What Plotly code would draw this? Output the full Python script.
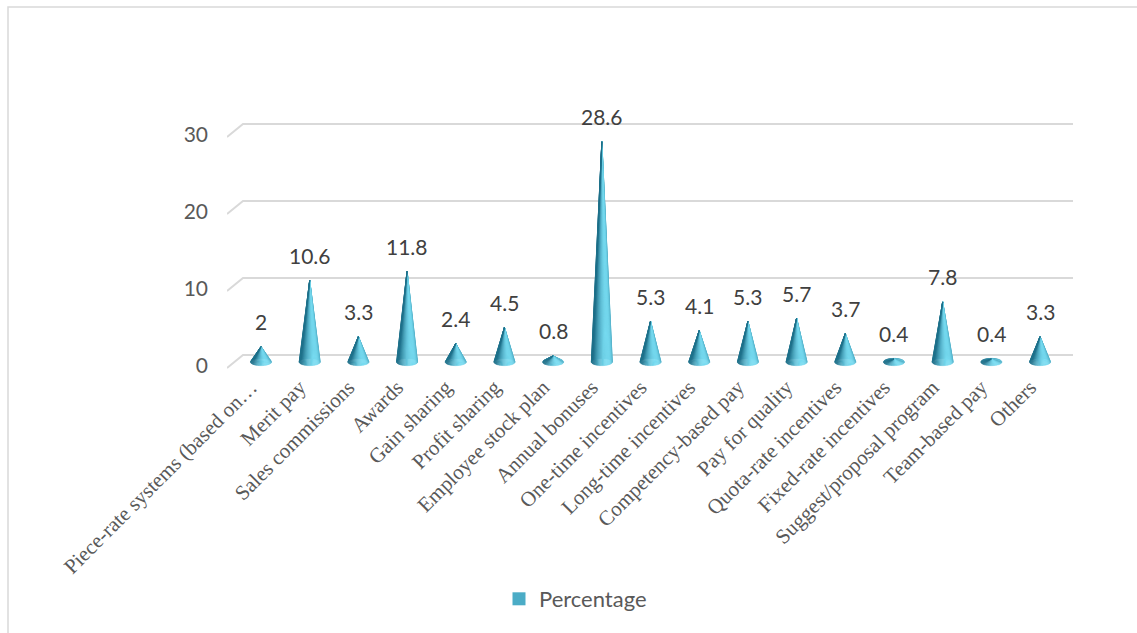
import numpy as np
import plotly.graph_objects as go

# ---- data ----
categories = [
    "Piece-rate systems (based on…",
    "Merit pay",
    "Sales commissions",
    "Awards",
    "Gain sharing",
    "Profit sharing",
    "Employee stock plan",
    "Annual bonuses",
    "One-time incentives",
    "Long-time incentives",
    "Competency-based pay",
    "Pay for quality",
    "Quota-rate incentives",
    "Fixed-rate incentives",
    "Suggest/proposal program",
    "Team-based pay",
    "Others",
]
percentages = [2, 10.6, 3.3, 11.8, 2.4, 4.5, 0.8, 28.6, 5.3, 4.1, 5.3, 5.7, 3.7, 0.4, 7.8, 0.4, 3.3]
y_ticks = [0, 10, 20, 30]
series_name = "Percentage"

# ---- page geometry (pixels) ----
W, H = 1137, 633
X_LEFT_PX, X_RIGHT_PX = 227, 1073      # plot area, including the 3D wall bevel
Y_TOP_PX, Y_BOTTOM_PX = 100, 370
FIRST_PX, STEP_PX = 261, 48.69         # category spacing
ZERO_PX, UNIT_PX = 362, 7.7            # value scale
BACK_DX, BACK_DY = 16, 7               # back wall offset from cone plane
FRONT_DY = 6                           # front edge offset from cone plane


def px_to_x(px):
    return (px - FIRST_PX) / STEP_PX


def px_to_y(py):
    return (ZERO_PX - py) / UNIT_PX


x_range = [px_to_x(X_LEFT_PX), px_to_x(X_RIGHT_PX)]
y_range = [px_to_y(Y_BOTTOM_PX), px_to_y(Y_TOP_PX)]

TEXT = "#595959"
GRID = "#d9d9d9"
SERIES = "#4BACC6"

fig = go.Figure()

# ---- 3D-style gridlines: bevel on the left wall + horizontal back line ----
back_x0 = x_range[0] + BACK_DX / STEP_PX
gx, gy = [], []
for t in y_ticks:
    gx += [x_range[0], back_x0, x_range[1], None]
    gy += [t - FRONT_DY / UNIT_PX, t + BACK_DY / UNIT_PX, t + BACK_DY / UNIT_PX, None]
fig.add_trace(go.Scatter(x=gx, y=gy, mode="lines", line=dict(color=GRID, width=2),
                         hoverinfo="skip", showlegend=False, cliponaxis=False))

# ---- cones built from shaded triangular strips ----
N = 26
radius = 10.5 / STEP_PX
ell = 3.6 / UNIT_PX
dark = np.array([30, 112, 138])
light = np.array([118, 218, 240])


def shade(intensity):
    t = float(np.clip(intensity, 0, 1)) ** 1.2
    c = dark + (light - dark) * t
    return "rgb(%d,%d,%d)" % tuple(c.round().astype(int))


def strip_trace(th0, th1, color):
    xs, ys = [], []
    for i, v in enumerate(percentages):
        xs += [i + radius * np.cos(th0), i + radius * np.cos(th1), i, None]
        ys += [-ell * np.sin(th0), -ell * np.sin(th1), v, None]
    return go.Scatter(x=xs, y=ys, mode="lines", fill="toself", fillcolor=color,
                      line=dict(color=color, width=0.6), hoverinfo="skip",
                      showlegend=False, cliponaxis=False)


# back half first (visible only on flat cones), then the front half on top
back = np.linspace(np.pi, 2 * np.pi, N + 1)
for a, b in zip(back[:-1], back[1:]):
    m = 0.5 * (a + b)
    fig.add_trace(strip_trace(a, b, shade(0.45 + 0.35 * np.cos(m))))

front = np.linspace(0, np.pi, N + 1)
for a, b in zip(front[:-1], front[1:]):
    m = 0.5 * (a + b)
    fig.add_trace(strip_trace(a, b, shade(0.55 * np.cos(m) + 0.85 * np.sin(m))))

# legend entry
fig.add_trace(go.Scatter(x=[None], y=[None], mode="markers", name=series_name,
                         marker=dict(symbol="square", size=13, color=SERIES)))

# value labels above cone tips
for i, v in enumerate(percentages):
    fig.add_annotation(x=i, y=v, text=f"{v:g}", showarrow=False, yshift=25,
                       yanchor="middle", font=dict(family="Lato", size=21, color="#404040"))

# chart border
fig.add_shape(type="rect", xref="paper", yref="paper",
              x0=8 / W, x1=1.02, y0=-0.02, y1=1 - 7 / H,
              line=dict(color=GRID, width=1.5), fillcolor="rgba(0,0,0,0)")

fig.update_layout(
    width=W, height=H,
    margin=dict(l=0, r=0, t=0, b=0, autoexpand=False),
    paper_bgcolor="white", plot_bgcolor="white",
    xaxis=dict(domain=[X_LEFT_PX / W, X_RIGHT_PX / W], range=x_range, automargin=False,
               tickmode="array", tickvals=list(range(len(categories))), ticktext=categories,
               tickangle=-45, tickfont=dict(family="Liberation Serif", size=21, color=TEXT),
               ticklabelshift=-10,
               showgrid=False, zeroline=False, showline=False, ticks=""),
    yaxis=dict(domain=[1 - Y_BOTTOM_PX / H, 1 - Y_TOP_PX / H], range=y_range, automargin=False,
               tickmode="array", tickvals=y_ticks,
               tickfont=dict(family="Lato", size=21, color=TEXT),
               showgrid=False, zeroline=False, showline=False, ticks="",
               ticklabelstandoff=18, ticklabelshift=4),
    legend=dict(orientation="h", x=652 / W, xanchor="right", y=1 - 599 / H, yanchor="middle",
                font=dict(family="Lato", size=22, color=TEXT), bgcolor="rgba(0,0,0,0)"),
    showlegend=True,
)

fig.write_html("out.html")
